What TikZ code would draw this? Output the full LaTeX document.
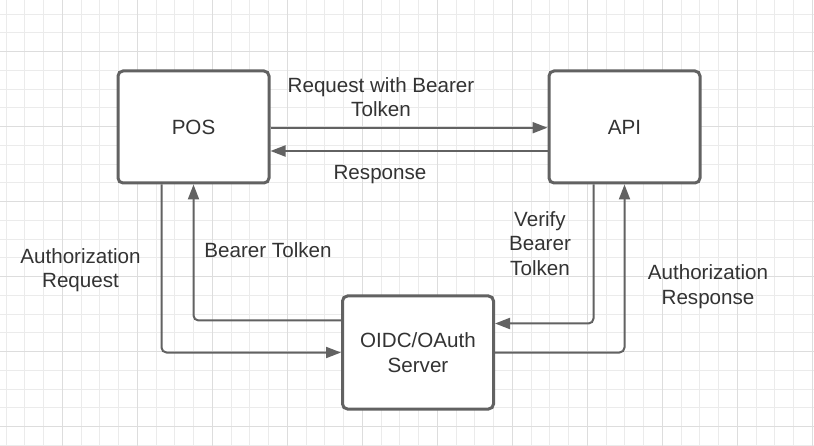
\documentclass[tikz,border=0pt]{standalone}
\usepackage{fontspec}
\setmainfont{Liberation Sans}
\usetikzlibrary{arrows.meta}

\definecolor{linegray}{HTML}{626262}
\definecolor{textgray}{HTML}{333333}
\definecolor{gridminor}{HTML}{EBEBEB}
\definecolor{gridmajor}{HTML}{DDDDDD}

\begin{document}
\begin{tikzpicture}
  [x=1pt, y=-1pt, font=\fontsize{20.6}{24.5}\selectfont, text=textgray,
   arrows={-Triangle[length=15pt,width=11pt]}]
  \tikzset{box/.style={draw=linegray, line width=3pt, rounded corners=5pt, fill=white,
      minimum width=151pt, minimum height=112pt, align=center, inner sep=0pt}}
  \tikzset{flow/.style={draw=linegray, line width=2pt, rounded corners=5pt}}
  \tikzset{lbl/.style={align=center, inner sep=0pt}}

  \useasboundingbox (0,0) rectangle (814,446);
  \fill[white] (0,0) rectangle (814,446);

  % grid
  \foreach \k in {0,...,43} {
    \draw[-, gridminor, line width=1pt] (6.05+18.75*\k,0) -- (6.05+18.75*\k,446);
  }
  \foreach \k in {0,...,23} {
    \draw[-, gridminor, line width=1pt] (0,14.2+18.75*\k) -- (814,14.2+18.75*\k);
  }
  \foreach \k in {0,...,10} {
    \draw[-, gridmajor, line width=1pt] (62.3+75*\k,0) -- (62.3+75*\k,446);
  }
  \foreach \k in {0,...,5} {
    \draw[-, gridmajor, line width=1pt] (0,51.7+75*\k) -- (814,51.7+75*\k);
  }

  % boxes
  \node[box] (pos) at (193.5,127) {POS};
  \node[box] (api) at (624.5,127) {API};
  \node[box, minimum height=113pt] (oidc) at (418,352.5) {OIDC/OAuth\\Server};

  % labels
  \node[lbl] (reqlbl) at (381,97) {Request with Bearer\\Tolken};
  \node[lbl] (resplbl) at (380,175) {Response};
  \node[lbl] (authreqlbl) at (80.5,270) {Authorization\\Request};
  \node[lbl] (bearerlbl) at (268,250) {Bearer Tolken};
  \node[lbl] (verifylbl) at (540,243.5) {Verify\\Bearer\\Tolken};
  \node[lbl] (authresplbl) at (708,286.5) {Authorization\\Response};

  % POS <-> API
  \draw[flow] ([yshift=-0.7pt]pos.east) -- ([yshift=-0.7pt]api.west);
  \draw[flow] ([yshift=-24pt]api.west) -- ([yshift=-24pt]pos.east);

  % POS <-> OIDC
  \draw[flow] ([xshift=-32pt]pos.south) |- (oidc.west);
  \draw[flow] ([yshift=32pt]oidc.west) -| (pos.south);

  % API <-> OIDC
  \draw[flow] ([xshift=-31pt]api.south) |- ([yshift=29pt]oidc.east);
  \draw[flow] (oidc.east) -| (api.south);
\end{tikzpicture}
\end{document}
